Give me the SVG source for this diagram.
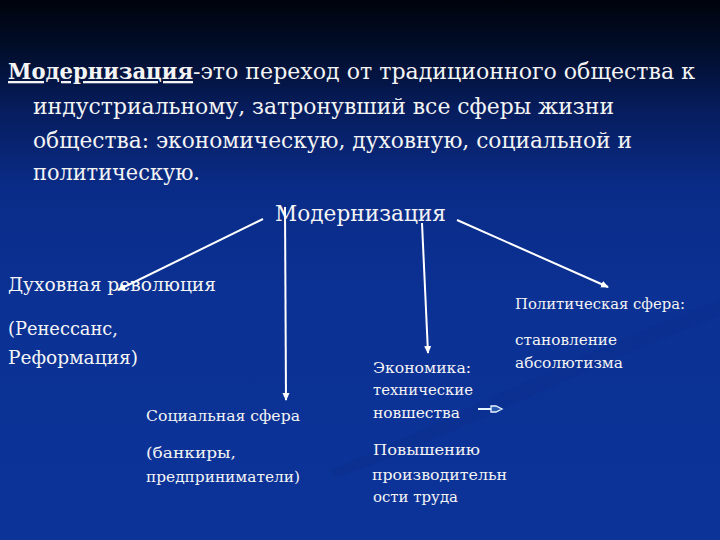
<svg xmlns="http://www.w3.org/2000/svg" width="720" height="540" viewBox="0 0 720 540">
  <defs>
    <linearGradient id="bg" x1="0" y1="0" x2="0" y2="1">
      <stop offset="0" stop-color="#00030c"/>
      <stop offset="0.08" stop-color="#010c26"/>
      <stop offset="0.2" stop-color="#061c5c"/>
      <stop offset="0.35" stop-color="#0a2c88"/>
      <stop offset="0.55" stop-color="#0b3194"/>
      <stop offset="1" stop-color="#0c3398"/>
    </linearGradient>
    <marker id="ah" markerWidth="8" markerHeight="8" refX="7" refY="4" orient="auto" markerUnits="userSpaceOnUse">
      <path d="M0,0.5 L8,4 L0,7.5 Z" fill="#ffffff"/>
    </marker>
    <style>
      .big { font-size: 23px; }
      .mid { font-size: 19px; }
      .sm { font-size: 14px; }
      .conn { stroke: #ffffff; stroke-width: 2; fill: none; marker-end: url(#ah); }
    </style>
  </defs>
  <rect width="720" height="540" fill="url(#bg)"/>
  <path d="M330,470 C430,430 560,360 720,300 L720,316 C570,373 440,443 335,478 Z" fill="#082a80" opacity="0.2"/>

  <g fill="#f4f4f4" font-family="'DejaVu Serif', 'Liberation Serif', serif">
  <g id="definition">
    <text class="big" x="8" y="79"><tspan font-weight="bold" text-decoration="underline" textLength="185" lengthAdjust="spacingAndGlyphs">Модернизация</tspan><tspan textLength="502" lengthAdjust="spacingAndGlyphs">-это переход от традиционного общества к</tspan></text>
    <text class="big" x="33" y="114" textLength="581" lengthAdjust="spacingAndGlyphs">индустриальному, затронувший все сферы жизни</text>
    <text class="big" x="33" y="148" textLength="599" lengthAdjust="spacingAndGlyphs">общества: экономическую, духовную, социальной и</text>
    <text class="big" x="33" y="180" textLength="167" lengthAdjust="spacingAndGlyphs">политическую.</text>
  </g>

  <g id="root">
    <text class="big" x="275" y="221" textLength="171" lengthAdjust="spacingAndGlyphs">Модернизация</text>
  </g>

  <g id="spiritual">
    <text class="mid" x="8" y="291" textLength="208" lengthAdjust="spacingAndGlyphs">Духовная революция</text>
    <text class="mid" x="8" y="335" textLength="110" lengthAdjust="spacingAndGlyphs">(Ренессанс,</text>
    <text class="mid" x="8" y="364" textLength="130" lengthAdjust="spacingAndGlyphs">Реформация)</text>
  </g>

  <g id="social">
    <text class="sm" x="146" y="421" textLength="154" lengthAdjust="spacingAndGlyphs">Социальная сфера</text>
    <text class="sm" x="146" y="458" textLength="90" lengthAdjust="spacingAndGlyphs">(банкиры,</text>
    <text class="sm" x="146" y="482" textLength="154" lengthAdjust="spacingAndGlyphs">предприниматели)</text>
  </g>

  <g id="economy">
    <text class="sm" x="373" y="373" textLength="98" lengthAdjust="spacingAndGlyphs">Экономика:</text>
    <text class="sm" x="373" y="395" textLength="100" lengthAdjust="spacingAndGlyphs">технические</text>
    <text class="sm" x="373" y="418" textLength="87" lengthAdjust="spacingAndGlyphs">новшества</text>
    <text class="sm" x="373" y="455" textLength="107" lengthAdjust="spacingAndGlyphs">Повышению</text>
    <text class="sm" x="372" y="480" textLength="135" lengthAdjust="spacingAndGlyphs">производительн</text>
    <text class="sm" x="373" y="502" textLength="85" lengthAdjust="spacingAndGlyphs">ости труда</text>
  </g>

  <g id="political">
    <text class="sm" x="515" y="309" textLength="170" lengthAdjust="spacingAndGlyphs">Политическая сфера:</text>
    <text class="sm" x="515" y="345" textLength="102" lengthAdjust="spacingAndGlyphs">становление</text>
    <text class="sm" x="515" y="368" textLength="108" lengthAdjust="spacingAndGlyphs">абсолютизма</text>
  </g>
  </g>

  <g id="connectors">
    <line class="conn" x1="263" y1="219" x2="118" y2="290"/>
    <line class="conn" x1="285" y1="207" x2="286" y2="400"/>
    <line class="conn" x1="422" y1="223" x2="428" y2="353"/>
    <line class="conn" x1="457" y1="220" x2="608" y2="287"/>
    <line x1="478" y1="409" x2="491" y2="409" stroke="#e8f4ff" stroke-width="2"/>
    <path d="M491,406 L496,406 L502,409 L496,412 L491,412 Z" fill="#2a5ab0" stroke="#e8f4ff" stroke-width="1.3"/>
  </g>
</svg>
